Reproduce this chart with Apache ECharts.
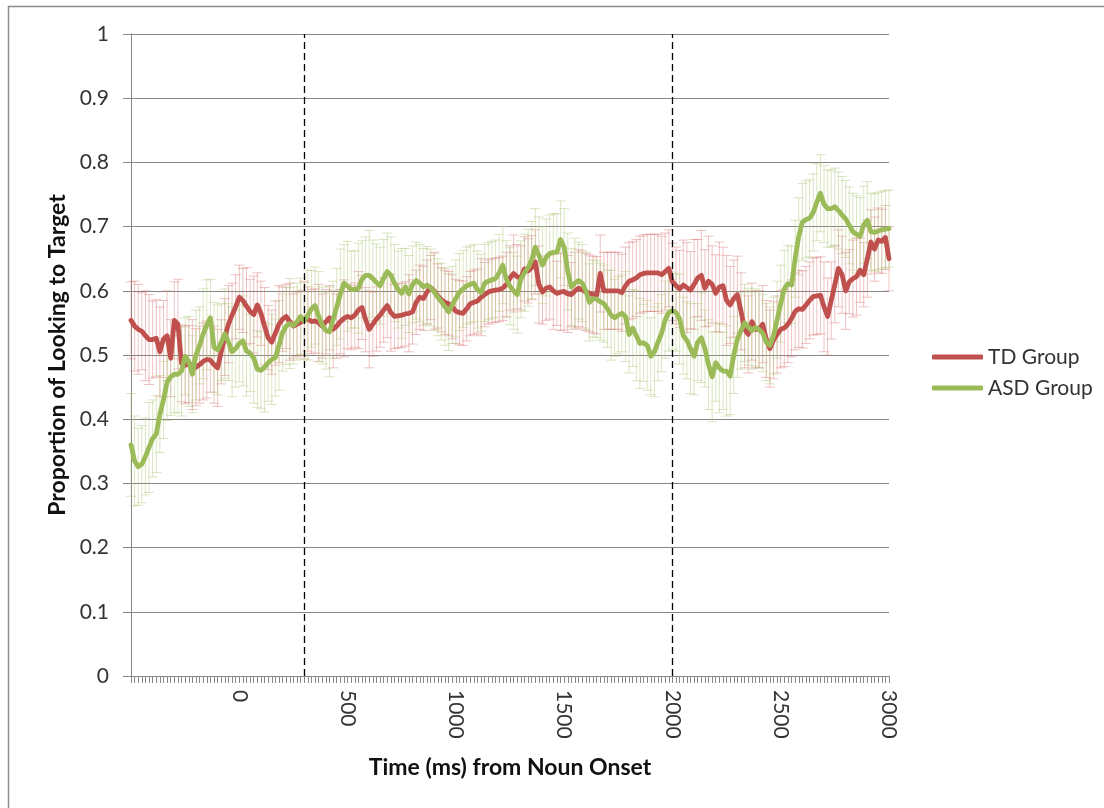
<!DOCTYPE html>
<html>
<head>
<meta charset="utf-8">
<script src="https://cdn.jsdelivr.net/npm/echarts@6.0.0/dist/echarts.min.js"></script>
<style>
  html, body { margin: 0; padding: 0; background: #fff; }
  #chart { width: 1104px; height: 808px; }
</style>
</head>
<body>
<div id="chart"></div>
<script>
// Sampling of the gaze data: 60 Hz, from -500 ms to 3000 ms after noun onset
const TIME_START = -500;
const TIME_STEP = 50 / 3;

// Times that carry a tick label
const LABELED_TIMES = [0, 500, 1000, 1500, 2000, 2500, 3000];

// Window boundaries drawn as dashed lines
const WINDOW_TIMES = [300, 2000];

// Mean proportion of looking to target, TD group
const TD = [
  0.554,0.545,0.540,0.537,0.530,0.524,0.524,0.526,0.505,0.525,
  0.530,0.495,0.554,0.548,0.487,0.484,0.486,0.485,0.481,0.485,
  0.490,0.493,0.492,0.485,0.480,0.505,0.528,0.548,0.562,0.575,
  0.590,0.585,0.576,0.568,0.563,0.578,0.565,0.545,0.527,0.520,
  0.534,0.548,0.556,0.560,0.552,0.545,0.548,0.551,0.555,0.556,
  0.552,0.553,0.550,0.545,0.552,0.558,0.540,0.545,0.552,0.557,
  0.560,0.558,0.562,0.570,0.574,0.555,0.540,0.548,0.556,0.562,
  0.570,0.577,0.566,0.560,0.561,0.562,0.564,0.565,0.567,0.582,
  0.590,0.588,0.598,0.605,0.600,0.592,0.586,0.582,0.580,0.575,
  0.568,0.566,0.565,0.572,0.580,0.582,0.584,0.590,0.594,0.598,
  0.600,0.601,0.602,0.604,0.610,0.620,0.627,0.622,0.620,0.634,
  0.631,0.636,0.645,0.610,0.598,0.604,0.606,0.600,0.596,0.598,
  0.599,0.595,0.594,0.600,0.604,0.602,0.598,0.596,0.594,0.593,
  0.627,0.600,0.600,0.600,0.600,0.600,0.597,0.608,0.615,0.617,
  0.620,0.625,0.627,0.628,0.628,0.628,0.628,0.625,0.630,0.635,
  0.614,0.608,0.603,0.609,0.605,0.601,0.610,0.620,0.624,0.604,
  0.615,0.610,0.596,0.606,0.608,0.585,0.578,0.588,0.594,0.568,
  0.540,0.532,0.552,0.540,0.540,0.548,0.525,0.510,0.523,0.532,
  0.540,0.542,0.548,0.557,0.568,0.572,0.571,0.578,0.585,0.591,
  0.592,0.593,0.575,0.560,0.585,0.610,0.635,0.625,0.600,0.614,
  0.619,0.622,0.632,0.625,0.650,0.676,0.665,0.679,0.677,0.683,
  0.650
];

// Standard error, TD group
const TD_ERR = [
  0.06,0.07,0.07,0.06,0.07,0.07,0.06,0.06,0.07,0.06,
  0.07,0.06,0.06,0.07,0.06,0.06,0.06,0.07,0.06,0.06,
  0.06,0.06,0.05,0.06,0.06,0.05,0.06,0.06,0.05,0.05,
  0.05,0.05,0.06,0.05,0.06,0.05,0.05,0.06,0.05,0.05,
  0.05,0.06,0.05,0.05,0.06,0.05,0.05,0.05,0.06,0.05,
  0.05,0.05,0.06,0.05,0.05,0.05,0.06,0.05,0.05,0.06,
  0.05,0.05,0.05,0.06,0.05,0.05,0.06,0.05,0.05,0.05,
  0.05,0.05,0.06,0.05,0.05,0.05,0.05,0.06,0.05,0.05,
  0.05,0.05,0.05,0.05,0.06,0.05,0.05,0.05,0.05,0.05,
  0.05,0.05,0.05,0.05,0.05,0.05,0.05,0.06,0.05,0.05,
  0.05,0.05,0.05,0.05,0.05,0.05,0.06,0.05,0.05,0.05,
  0.05,0.05,0.05,0.06,0.05,0.05,0.05,0.06,0.05,0.06,
  0.06,0.06,0.05,0.06,0.06,0.06,0.06,0.06,0.06,0.06,
  0.06,0.06,0.06,0.06,0.06,0.06,0.06,0.06,0.06,0.06,
  0.06,0.06,0.06,0.06,0.06,0.06,0.06,0.06,0.06,0.06,
  0.06,0.06,0.06,0.07,0.07,0.06,0.07,0.06,0.07,0.06,
  0.07,0.06,0.06,0.07,0.06,0.07,0.06,0.06,0.06,0.06,
  0.06,0.06,0.06,0.06,0.06,0.06,0.06,0.06,0.06,0.06,
  0.06,0.06,0.06,0.06,0.06,0.06,0.06,0.06,0.06,0.06,
  0.06,0.06,0.07,0.06,0.06,0.06,0.06,0.06,0.06,0.05,
  0.06,0.06,0.05,0.05,0.06,0.05,0.05,0.05,0.05,0.05,
  0.05
];

// Mean proportion of looking to target, ASD group
const ASD = [
  0.360,0.335,0.326,0.330,0.342,0.356,0.370,0.377,0.408,0.430,
  0.458,0.466,0.470,0.470,0.475,0.498,0.490,0.470,0.500,0.515,
  0.533,0.547,0.558,0.512,0.508,0.520,0.533,0.520,0.505,0.510,
  0.518,0.522,0.506,0.503,0.495,0.478,0.476,0.481,0.488,0.493,
  0.496,0.515,0.535,0.545,0.549,0.546,0.552,0.560,0.553,0.562,
  0.572,0.577,0.560,0.546,0.538,0.536,0.555,0.575,0.595,0.612,
  0.607,0.602,0.602,0.604,0.618,0.624,0.624,0.619,0.613,0.608,
  0.620,0.630,0.624,0.612,0.602,0.596,0.606,0.595,0.610,0.616,
  0.612,0.606,0.609,0.605,0.598,0.590,0.583,0.575,0.567,0.578,
  0.588,0.598,0.603,0.608,0.610,0.612,0.602,0.597,0.612,0.615,
  0.617,0.619,0.628,0.640,0.618,0.607,0.600,0.594,0.618,0.628,
  0.636,0.648,0.668,0.655,0.640,0.652,0.658,0.660,0.660,0.680,
  0.668,0.630,0.606,0.612,0.616,0.612,0.600,0.582,0.588,0.587,
  0.583,0.580,0.572,0.562,0.558,0.562,0.565,0.560,0.532,0.542,
  0.530,0.518,0.519,0.515,0.498,0.505,0.520,0.534,0.555,0.566,
  0.569,0.566,0.556,0.530,0.523,0.510,0.498,0.520,0.527,0.510,
  0.485,0.466,0.488,0.480,0.475,0.475,0.467,0.500,0.525,0.538,
  0.550,0.544,0.538,0.543,0.540,0.534,0.520,0.515,0.530,0.555,
  0.580,0.603,0.611,0.609,0.650,0.685,0.707,0.711,0.713,0.722,
  0.738,0.752,0.735,0.728,0.728,0.731,0.725,0.718,0.712,0.702,
  0.692,0.688,0.685,0.703,0.710,0.692,0.691,0.693,0.695,0.696,
  0.697
];

// Standard error, ASD group
const ASD_ERR = [
  0.08,0.07,0.06,0.06,0.06,0.07,0.06,0.06,0.06,0.06,
  0.06,0.06,0.06,0.06,0.07,0.06,0.07,0.06,0.07,0.06,
  0.07,0.07,0.06,0.07,0.07,0.06,0.07,0.06,0.07,0.06,
  0.06,0.07,0.07,0.06,0.07,0.06,0.06,0.07,0.06,0.07,
  0.06,0.07,0.06,0.06,0.07,0.06,0.06,0.06,0.06,0.07,
  0.06,0.06,0.07,0.06,0.06,0.07,0.06,0.06,0.07,0.06,
  0.07,0.06,0.06,0.07,0.06,0.06,0.07,0.06,0.06,0.06,
  0.06,0.06,0.06,0.06,0.06,0.07,0.06,0.06,0.06,0.06,
  0.06,0.06,0.06,0.06,0.06,0.06,0.06,0.06,0.06,0.06,
  0.06,0.06,0.06,0.06,0.06,0.06,0.06,0.06,0.06,0.06,
  0.06,0.06,0.06,0.06,0.06,0.06,0.06,0.06,0.06,0.06,
  0.06,0.06,0.06,0.06,0.06,0.06,0.06,0.06,0.06,0.06,
  0.06,0.06,0.06,0.07,0.06,0.06,0.06,0.06,0.06,0.06,
  0.06,0.06,0.06,0.07,0.06,0.06,0.06,0.07,0.06,0.06,
  0.07,0.07,0.06,0.07,0.06,0.07,0.06,0.06,0.06,0.06,
  0.06,0.06,0.07,0.06,0.06,0.07,0.06,0.06,0.07,0.06,
  0.07,0.07,0.06,0.07,0.06,0.07,0.06,0.06,0.06,0.06,
  0.06,0.06,0.06,0.06,0.06,0.06,0.06,0.06,0.06,0.06,
  0.06,0.06,0.06,0.06,0.06,0.06,0.06,0.06,0.06,0.06,
  0.06,0.06,0.06,0.06,0.06,0.06,0.06,0.06,0.06,0.06,
  0.06,0.06,0.06,0.06,0.06,0.06,0.06,0.06,0.06,0.06,
  0.06
];

const TD_COLOR = '#C0504D';
const ASD_COLOR = '#9BBB59';
const AXIS_GRAY = '#868686';
const FONT = 'Lato, "Open Sans", sans-serif';

const times = TD.map((_, i) => String(Math.round(TIME_START + i * TIME_STEP)));
const labeledSet = new Set(LABELED_TIMES.map(String));

function errorBarSeries(name, means, errs, color) {
  return {
    type: 'custom',
    name: name + ' error',
    silent: true,
    z: 1,
    data: means.map((m, i) => [i, m, errs[i]]),
    renderItem: function (params, api) {
      const i = api.value(0), m = api.value(1), e = api.value(2);
      const top = api.coord([i, m + e]);
      const bot = api.coord([i, m - e]);
      const half = 5;
      const style = { stroke: color, lineWidth: 1 };
      return {
        type: 'group',
        children: [
          { type: 'line', shape: { x1: top[0], y1: top[1], x2: bot[0], y2: bot[1] }, style: style },
          { type: 'line', shape: { x1: top[0] - half, y1: top[1], x2: top[0] + half, y2: top[1] }, style: style },
          { type: 'line', shape: { x1: bot[0] - half, y1: bot[1], x2: bot[0] + half, y2: bot[1] }, style: style }
        ]
      };
    }
  };
}

const chart = echarts.init(document.getElementById('chart'), null, { renderer: 'canvas' });

chart.setOption({
  animation: false,
  backgroundColor: '#fff',
  textStyle: { fontFamily: FONT },
  graphic: [{
    type: 'rect',
    shape: { x: 8.5, y: 6.5, width: 1200, height: 820 },
    style: { fill: 'none', stroke: '#8c8c8c', lineWidth: 1.5 },
    silent: true
  }],
  grid: { left: 131, right: 215, top: 34, bottom: 132, containLabel: false },
  legend: {
    orient: 'vertical',
    left: 927,
    top: 340,
    itemWidth: 51,
    itemHeight: 5,
    itemGap: 7,
    icon: 'roundRect',
    data: ['TD Group', 'ASD Group'],
    textStyle: { fontFamily: FONT, fontSize: 21, color: '#333', lineHeight: 24 }
  },
  xAxis: {
    type: 'category',
    data: times,
    boundaryGap: false,
    name: 'Time (ms) from Noun Onset',
    nameLocation: 'middle',
    nameGap: 80,
    nameTextStyle: { fontFamily: FONT, fontSize: 23, fontWeight: 'bold', color: '#111' },
    axisLine: { lineStyle: { color: AXIS_GRAY, width: 1 } },
    axisTick: { show: true, interval: 0, length: 7, lineStyle: { color: AXIS_GRAY } },
    axisLabel: {
      interval: (idx, val) => labeledSet.has(val),
      rotate: -90,
      margin: 14,
      fontFamily: FONT,
      fontSize: 21,
      color: '#333'
    },
    splitLine: { show: false }
  },
  yAxis: {
    type: 'value',
    min: 0,
    max: 1,
    interval: 0.1,
    name: 'Proportion of Looking to Target',
    nameLocation: 'middle',
    nameGap: 62,
    nameTextStyle: { fontFamily: FONT, fontSize: 23, fontWeight: 'bold', color: '#111' },
    axisLine: { show: true, lineStyle: { color: AXIS_GRAY, width: 1 } },
    axisTick: { show: true, length: 8, lineStyle: { color: AXIS_GRAY } },
    axisLabel: { margin: 22, fontFamily: FONT, fontSize: 21, color: '#333' },
    splitLine: { show: true, lineStyle: { color: AXIS_GRAY, width: 1 } }
  },
  series: [
    errorBarSeries('TD Group', TD, TD_ERR, 'rgba(220,120,120,0.45)'),
    errorBarSeries('ASD Group', ASD, ASD_ERR, 'rgba(175,200,120,0.45)'),
    {
      type: 'line',
      name: 'TD Group',
      data: TD,
      z: 3,
      showSymbol: false,
      symbol: 'none',
      color: TD_COLOR,
      lineStyle: { color: TD_COLOR, width: 4.8, join: 'round', cap: 'round' },
      markLine: {
        silent: true,
        symbol: 'none',
        label: { show: false },
        lineStyle: { color: '#000', type: [7, 4], width: 1.3 },
        data: WINDOW_TIMES.map(t => ({ xAxis: times.indexOf(String(t)) }))
      }
    },
    {
      type: 'line',
      name: 'ASD Group',
      data: ASD,
      z: 4,
      showSymbol: false,
      symbol: 'none',
      color: ASD_COLOR,
      lineStyle: { color: ASD_COLOR, width: 4.8, join: 'round', cap: 'round' }
    }
  ]
});
</script>
</body>
</html>
